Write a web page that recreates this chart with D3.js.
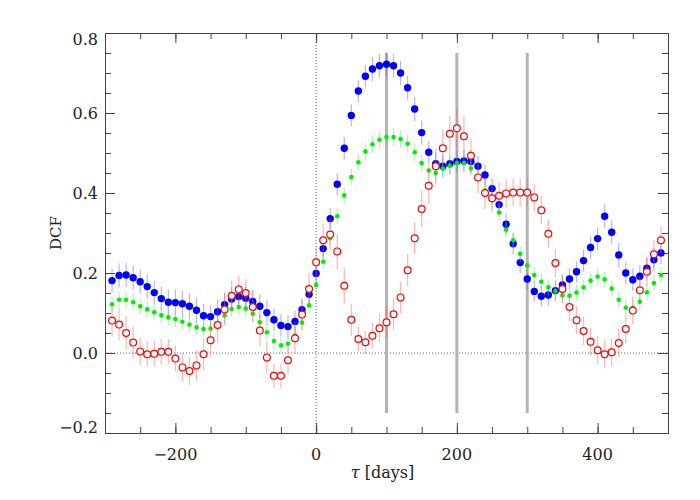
<!DOCTYPE html>
<html>
<head>
<meta charset="utf-8">
<script src="https://cdn.jsdelivr.net/npm/d3@7.9.0/dist/d3.min.js"></script>
<style>
  html, body { margin: 0; padding: 0; background: #fff; }
  svg text { font-family: "DejaVu Serif", "Liberation Serif", serif; fill: #222; }
</style>
</head>
<body>
<svg id="chart" width="700" height="500"></svg>
<script>
// lags in days
const lags = [
  -290, -280, -270, -260, -250, -240, -230, -220, -210, -200,
  -190, -180, -170, -160, -150, -140, -130, -120, -110, -100,
  -90, -80, -70, -60, -50, -40, -30, -20, -10, 0,
  10, 20, 30, 40, 50, 60, 70, 80, 90, 100,
  110, 120, 130, 140, 150, 160, 170, 180, 190, 200,
  210, 220, 230, 240, 250, 260, 270, 280, 290, 300,
  310, 320, 330, 340, 350, 360, 370, 380, 390, 400,
  410, 420, 430, 440, 450, 460, 470, 480, 490
];

const blueDCF = [
  0.181, 0.194, 0.195, 0.188, 0.178, 0.166, 0.151, 0.136, 0.127, 0.126,
  0.123, 0.117, 0.107, 0.093, 0.091, 0.103, 0.121, 0.135, 0.141, 0.137,
  0.129, 0.117, 0.101, 0.083, 0.069, 0.066, 0.079, 0.108, 0.147, 0.199,
  0.261, 0.336, 0.422, 0.512, 0.594, 0.655, 0.692, 0.710, 0.718, 0.722,
  0.718, 0.700, 0.663, 0.610, 0.551, 0.502, 0.473, 0.467, 0.473, 0.479,
  0.480, 0.479, 0.467, 0.445, 0.411, 0.371, 0.322, 0.273, 0.226, 0.185,
  0.154, 0.142, 0.145, 0.156, 0.170, 0.185, 0.203, 0.231, 0.264, 0.286,
  0.342, 0.302, 0.245, 0.200, 0.183, 0.192, 0.212, 0.233, 0.250
];
const blueErr = [
  0.030, 0.030, 0.030, 0.030, 0.030, 0.030, 0.030, 0.030, 0.032, 0.032,
  0.032, 0.032, 0.032, 0.030, 0.030, 0.030, 0.030, 0.030, 0.030, 0.030,
  0.030, 0.030, 0.030, 0.028, 0.028, 0.028, 0.026, 0.026, 0.026, 0.026,
  0.026, 0.026, 0.028, 0.028, 0.028, 0.028, 0.028, 0.030, 0.030, 0.030,
  0.030, 0.030, 0.030, 0.030, 0.030, 0.028, 0.028, 0.028, 0.028, 0.028,
  0.028, 0.028, 0.026, 0.026, 0.026, 0.026, 0.026, 0.026, 0.026, 0.026,
  0.026, 0.026, 0.026, 0.026, 0.026, 0.026, 0.026, 0.028, 0.028, 0.028,
  0.030, 0.030, 0.030, 0.028, 0.028, 0.028, 0.028, 0.028, 0.028
];

const greenDCF = [
  0.122, 0.133, 0.133, 0.127, 0.117, 0.109, 0.102, 0.094, 0.089, 0.085,
  0.078, 0.071, 0.064, 0.060, 0.061, 0.073, 0.094, 0.110, 0.115, 0.111,
  0.098, 0.077, 0.052, 0.030, 0.019, 0.023, 0.044, 0.076, 0.119, 0.170,
  0.228, 0.287, 0.342, 0.394, 0.440, 0.477, 0.504, 0.522, 0.533, 0.540,
  0.540, 0.535, 0.523, 0.502, 0.475, 0.456, 0.450, 0.461, 0.468, 0.475,
  0.475, 0.462, 0.440, 0.407, 0.382, 0.351, 0.308, 0.282, 0.248, 0.219,
  0.195, 0.178, 0.164, 0.155, 0.144, 0.143, 0.151, 0.164, 0.181, 0.191,
  0.184, 0.161, 0.133, 0.113, 0.113, 0.128, 0.152, 0.175, 0.195
];
const greenErr = [
  0.020, 0.020, 0.020, 0.020, 0.020, 0.020, 0.020, 0.020, 0.020, 0.020,
  0.020, 0.020, 0.020, 0.020, 0.020, 0.020, 0.020, 0.020, 0.020, 0.020,
  0.020, 0.020, 0.020, 0.020, 0.020, 0.020, 0.020, 0.018, 0.018, 0.018,
  0.018, 0.018, 0.020, 0.020, 0.020, 0.020, 0.022, 0.022, 0.022, 0.022,
  0.022, 0.022, 0.022, 0.022, 0.022, 0.020, 0.020, 0.020, 0.020, 0.020,
  0.020, 0.020, 0.020, 0.020, 0.020, 0.020, 0.020, 0.020, 0.020, 0.020,
  0.020, 0.020, 0.020, 0.020, 0.020, 0.020, 0.020, 0.020, 0.020, 0.020,
  0.020, 0.020, 0.020, 0.020, 0.020, 0.020, 0.020, 0.020, 0.020
];

const redDCF = [
  0.081, 0.071, 0.050, 0.026, 0.004, -0.003, -0.002, 0.003, 0.003, -0.014,
  -0.036, -0.045, -0.031, -0.003, 0.032, 0.070, 0.109, 0.143, 0.159, 0.150,
  0.115, 0.056, -0.011, -0.057, -0.057, -0.018, 0.037, 0.096, 0.160, 0.227,
  0.282, 0.296, 0.254, 0.168, 0.083, 0.035, 0.027, 0.043, 0.062, 0.077,
  0.097, 0.139, 0.207, 0.287, 0.360, 0.418, 0.467, 0.512, 0.548, 0.562,
  0.542, 0.493, 0.439, 0.400, 0.387, 0.393, 0.399, 0.401, 0.401, 0.401,
  0.389, 0.357, 0.298, 0.225, 0.160, 0.115, 0.082, 0.055, 0.028, 0.007,
  -0.003, 0.002, 0.025, 0.060, 0.106, 0.157, 0.203, 0.247, 0.282
];
const redErr = [
  0.040, 0.040, 0.042, 0.040, 0.035, 0.032, 0.032, 0.032, 0.032, 0.032,
  0.035, 0.035, 0.038, 0.040, 0.042, 0.045, 0.040, 0.038, 0.035, 0.035,
  0.038, 0.040, 0.040, 0.030, 0.030, 0.035, 0.040, 0.040, 0.040, 0.040,
  0.040, 0.040, 0.045, 0.045, 0.040, 0.030, 0.030, 0.032, 0.035, 0.040,
  0.040, 0.040, 0.040, 0.040, 0.045, 0.045, 0.045, 0.045, 0.045, 0.050,
  0.050, 0.045, 0.040, 0.040, 0.035, 0.035, 0.035, 0.035, 0.035, 0.035,
  0.035, 0.035, 0.035, 0.035, 0.035, 0.035, 0.035, 0.035, 0.035, 0.035,
  0.035, 0.035, 0.035, 0.035, 0.035, 0.035, 0.035, 0.035, 0.035
];

// characteristic lags marked with grey bars
const markLags = [100, 200, 300];

const xTicks = [-200, 0, 200, 400];
const yTicks = [-0.2, 0.0, 0.2, 0.4, 0.6, 0.8];

const margin = { top: 33, right: 32, bottom: 67, left: 105 };
const width = 700 - margin.left - margin.right;
const height = 500 - margin.top - margin.bottom;

const svg = d3.select('#chart');
const g = svg.append('g').attr('transform', `translate(${margin.left},${margin.top})`);

const x = d3.scaleLinear().domain([-300, 500]).range([0, width]);
const y = d3.scaleLinear().domain([-0.2, 0.8]).range([height, 0]);

// zero lines
g.append('line')
  .attr('x1', x(0)).attr('x2', x(0)).attr('y1', 0).attr('y2', height)
  .attr('stroke', '#666').attr('stroke-width', 1).attr('stroke-dasharray', '1,2');
g.append('line')
  .attr('x1', 0).attr('x2', width).attr('y1', y(0)).attr('y2', y(0))
  .attr('stroke', '#666').attr('stroke-width', 1).attr('stroke-dasharray', '1,2');

// grey marker bars
g.selectAll('line.mark')
  .data(markLags)
  .join('line')
  .attr('class', 'mark')
  .attr('x1', (d) => x(d)).attr('x2', (d) => x(d))
  .attr('y1', y(0.75)).attr('y2', y(-0.15))
  .attr('stroke', '#b4b4b4').attr('stroke-width', 3);

// axes, ticks pointing inward on all four sides
const fmtY = (d) => d3.format('.1f')(d).replace('-', '\u2212');
const fmtX = (d) => String(d).replace('-', '\u2212');

const xMinor = d3.range(-250, 501, 50);
const yMinor = d3.range(-0.15, 0.8, 0.05);

[
  d3.axisBottom(x).tickValues(xMinor).tickSize(-6).tickFormat(''),
  d3.axisBottom(x).tickValues(xTicks).tickSize(-10).tickFormat(''),
].forEach((a) => g.append('g').attr('class', 'ax').attr('transform', `translate(0,${height})`).call(a));
[
  d3.axisTop(x).tickValues(xMinor).tickSize(-6).tickFormat(''),
  d3.axisTop(x).tickValues(xTicks).tickSize(-10).tickFormat(''),
].forEach((a) => g.append('g').attr('class', 'ax').call(a));
[
  d3.axisLeft(y).tickValues(yMinor).tickSize(-6).tickFormat(''),
  d3.axisLeft(y).tickValues(yTicks).tickSize(-10).tickFormat(''),
].forEach((a) => g.append('g').attr('class', 'ax').call(a));
[
  d3.axisRight(y).tickValues(yMinor).tickSize(-6).tickFormat(''),
  d3.axisRight(y).tickValues(yTicks).tickSize(-10).tickFormat(''),
].forEach((a) => g.append('g').attr('class', 'ax').attr('transform', `translate(${width},0)`).call(a));

g.selectAll('.ax path').attr('stroke', '#444');
g.selectAll('.ax line').attr('stroke', '#444');

// tick labels
g.selectAll('text.xl')
  .data(xTicks)
  .join('text')
  .attr('class', 'xl')
  .attr('x', (d) => x(d))
  .attr('y', height + 27)
  .attr('text-anchor', 'middle')
  .attr('font-size', 16)
  .text(fmtX);

g.selectAll('text.yl')
  .data(yTicks)
  .join('text')
  .attr('class', 'yl')
  .attr('x', -7)
  .attr('y', (d, i) => y(d) + (i === 0 ? 0 : i === yTicks.length - 1 ? 12 : 6))
  .attr('text-anchor', 'end')
  .attr('font-size', 16)
  .text(fmtY);

// axis titles
const xt = g.append('text')
  .attr('x', width / 2 - 4)
  .attr('y', height + 45)
  .attr('text-anchor', 'middle')
  .attr('font-size', 16);
xt.append('tspan').attr('font-style', 'italic').text('\u03c4');
xt.append('tspan').text(' [days]');

g.append('text')
  .attr('transform', `translate(-44,${height / 2}) rotate(-90)`)
  .attr('text-anchor', 'middle')
  .attr('font-size', 15)
  .text('DCF');

// series
const series = [
  { values: blueDCF, errs: blueErr, color: '#0000ff', bar: 'rgba(90,90,255,0.45)', r: 3.7, open: false },
  { values: greenDCF, errs: greenErr, color: '#00ee00', bar: 'rgba(90,230,90,0.45)', r: 2.3, open: false },
  { values: redDCF, errs: redErr, color: '#ff0000', bar: 'rgba(255,90,90,0.45)', r: 3.4, open: true },
];

series.forEach((s) => {
  const pts = lags.map((lag, i) => ({ lag, v: s.values[i], e: s.errs[i] }));
  const sg = g.append('g');
  sg.selectAll('line')
    .data(pts)
    .join('line')
    .attr('x1', (d) => x(d.lag)).attr('x2', (d) => x(d.lag))
    .attr('y1', (d) => y(d.v - d.e)).attr('y2', (d) => y(d.v + d.e))
    .attr('stroke', s.bar).attr('stroke-width', 1.2);
  sg.selectAll('circle')
    .data(pts)
    .join('circle')
    .attr('cx', (d) => x(d.lag))
    .attr('cy', (d) => y(d.v))
    .attr('r', s.r)
    .attr('fill', s.open ? '#fff' : s.color)
    .attr('stroke', s.open ? s.color : 'none')
    .attr('stroke-width', 1.2);
});
</script>
</body>
</html>
